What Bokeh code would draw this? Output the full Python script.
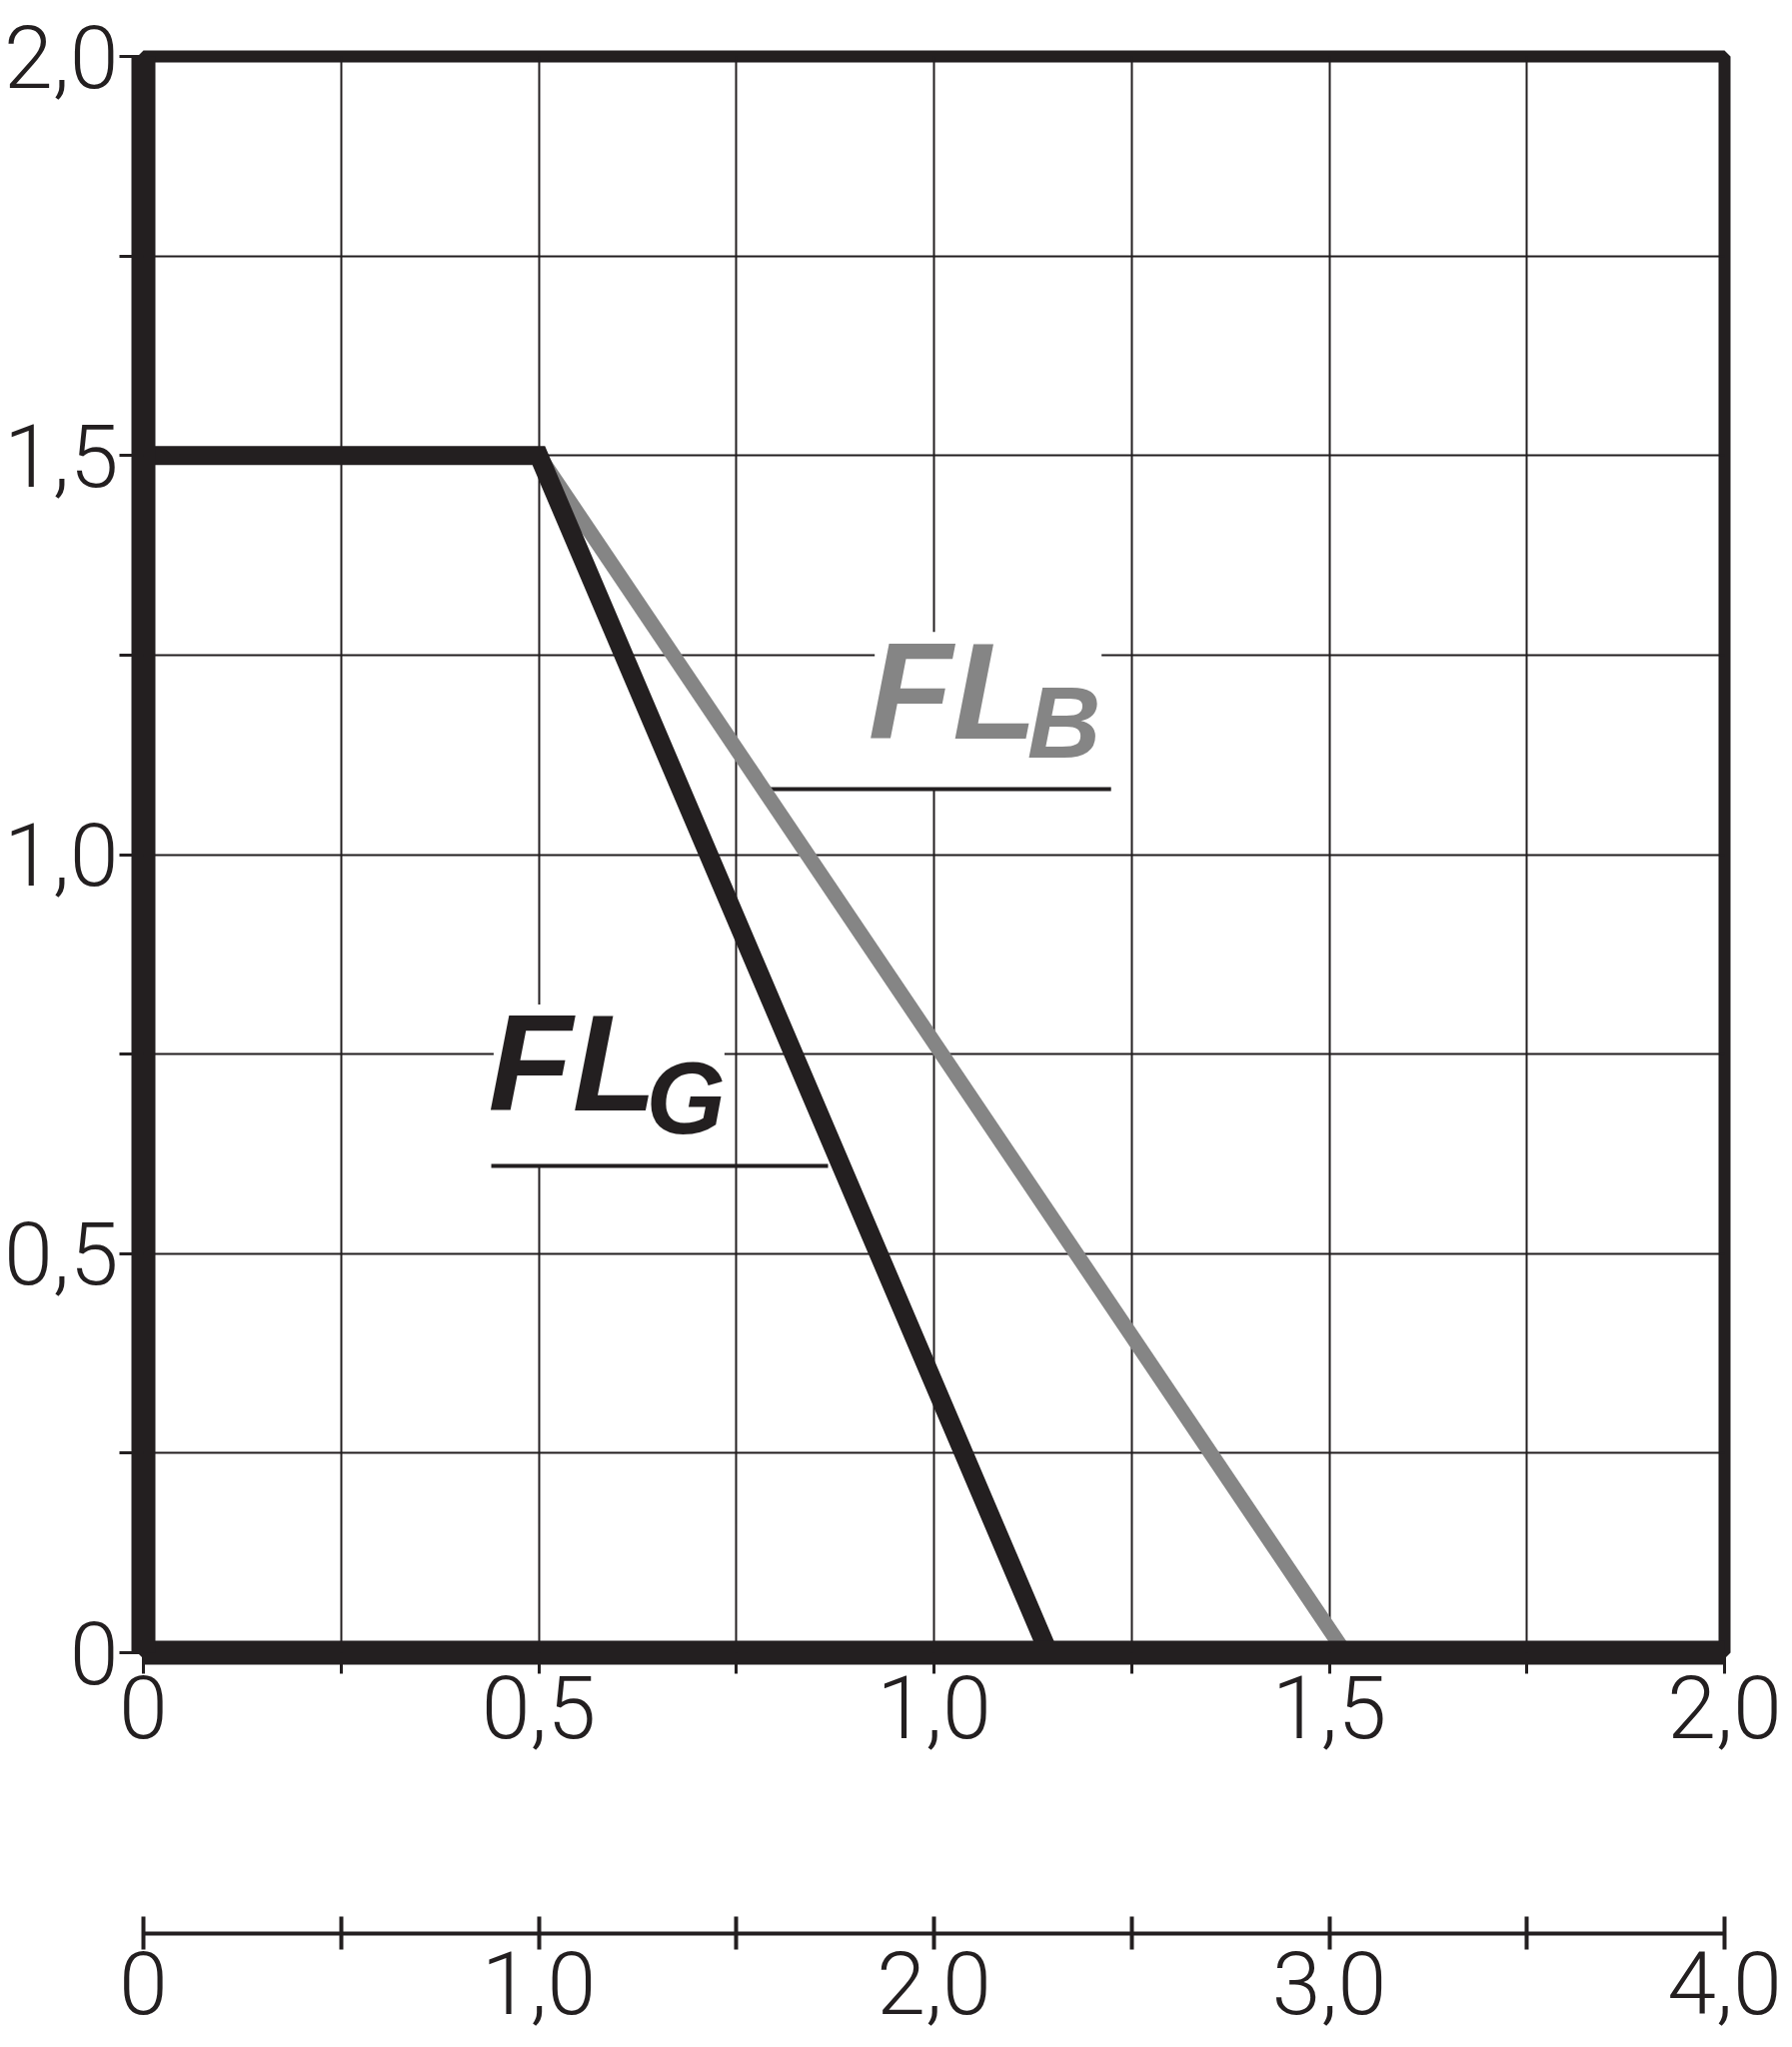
from bokeh.plotting import figure
from bokeh.models import Range1d, LinearAxis, FixedTicker, Label, BoxAnnotation
from bokeh.embed import file_html
from bokeh.resources import INLINE

# ---------------- data ----------------
fl_g_x = [0.0, 0.5, 1.145]
fl_g_y = [1.5, 1.5, 0.0]
fl_b_x = [0.5, 1.52]
fl_b_y = [1.5, 0.0]

x_major = [0.0, 0.5, 1.0, 1.5, 2.0]
x_minor = [0.25, 0.75, 1.25, 1.75]
x_labels = ["0", "0,5", "1,0", "1,5", "2,0"]

y_major = [0.0, 0.5, 1.0, 1.5, 2.0]
y_minor = [0.25, 0.75, 1.25, 1.75]
y_labels = ["0", "0,5", "1,0", "1,5", "2,0"]

x2_major = [0.0, 1.0, 2.0, 3.0, 4.0]
x2_minor = [0.5, 1.5, 2.5, 3.5]
x2_labels = ["0", "1,0", "2,0", "3,0", "4,0"]

label_b = ("FL", "B")
label_g = ("FL", "G")

# ---------------- styles ----------------
BLACK = "#231f20"
GRAY = "#858585"
TICK_FONT = "Roboto Light"
TICK_SIZE = "88px"

p = figure(frame_width=1582, frame_height=1597,
           x_range=Range1d(0, 2), y_range=Range1d(0, 2),
           min_border_left=142, min_border_top=56, min_border_right=60,
           min_border_bottom=383,
           output_backend="svg", toolbar_location=None,
           background_fill_color="white", border_fill_color="white")

p.outline_line_color = BLACK
p.outline_line_width = 12

xt = FixedTicker(ticks=x_major, minor_ticks=x_minor)
yt = FixedTicker(ticks=y_major, minor_ticks=y_minor)
p.xaxis.ticker = xt
p.yaxis.ticker = yt
p.xgrid.ticker = xt
p.ygrid.ticker = yt

for g in (p.xgrid, p.ygrid):
    g.grid_line_color = BLACK
    g.grid_line_width = 2
    g.minor_grid_line_color = BLACK
    g.minor_grid_line_width = 2

def style_axis(ax, line_w, t_in, t_out, t_w, standoff):
    ax.axis_line_color = BLACK
    ax.axis_line_width = line_w
    ax.major_tick_line_color = BLACK
    ax.minor_tick_line_color = BLACK
    ax.major_tick_line_width = t_w
    ax.minor_tick_line_width = t_w
    ax.major_tick_in = t_in
    ax.major_tick_out = t_out
    ax.minor_tick_in = t_in
    ax.minor_tick_out = t_out
    ax.major_label_text_font = TICK_FONT
    ax.major_label_text_font_size = TICK_SIZE
    ax.major_label_text_color = BLACK
    ax.major_label_standoff = standoff

xa = p.xaxis[0]
ya = p.yaxis[0]
style_axis(ya, 24, 0, 24, 3, 1)
style_axis(xa, 24, 0, 21, 3, 2)
ya.major_label_overrides = dict(zip(y_major, y_labels))
xa.major_label_overrides = dict(zip(x_major, x_labels))

p.extra_x_ranges = {"x2": Range1d(0, 4)}

# invisible spacer between the two scales
spacer = LinearAxis(x_range_name="x2", ticker=FixedTicker(ticks=[]),
                    axis_line_color=None, major_tick_line_color=None,
                    minor_tick_line_color=None, axis_label=" ",
                    axis_label_text_font_size="100px", axis_label_standoff=78)
p.add_layout(spacer, "below")

xa2 = LinearAxis(x_range_name="x2",
                 ticker=FixedTicker(ticks=x2_major, minor_ticks=x2_minor))
style_axis(xa2, 4, 17, 16, 4, 2)
xa2.major_label_overrides = dict(zip(x2_major, x2_labels))
p.add_layout(xa2, "below")

# white boxes behind the curve names (cut the grid)
p.add_layout(BoxAnnotation(left=0.925, right=1.212, bottom=1.082, top=1.279,
                           fill_color="white", fill_alpha=1.0, line_color=None,
                           level="underlay"))
p.add_layout(BoxAnnotation(left=0.443, right=0.735, bottom=0.610, top=0.812,
                           fill_color="white", fill_alpha=1.0, line_color=None,
                           level="underlay"))

# underlines of the curve names
p.segment(x0=[0.783, 0.440], y0=[1.082, 0.610], x1=[1.224, 0.866], y1=[1.082, 0.610],
          line_color=BLACK, line_width=4)

# curves
p.line(fl_b_x, fl_b_y, line_color=GRAY, line_width=15, line_join="miter")
p.line(fl_g_x, fl_g_y, line_color=BLACK, line_width=19, line_join="miter")

def name_label(x, y, text, size, color):
    p.add_layout(Label(x=x, y=y, text=text, text_font="Liberation Sans",
                       text_font_style="bold italic", text_font_size=size,
                       text_color=color, text_align="left",
                       text_baseline="alphabetic"))

name_label(0.917, 1.205, label_b[0], "138px", GRAY)
name_label(1.118, 1.165, label_b[1], "102px", GRAY)
name_label(0.436, 0.740, label_g[0], "138px", BLACK)
name_label(0.636, 0.695, label_g[1], "102px", BLACK)

open("out.html", "w").write(file_html(p, INLINE))
